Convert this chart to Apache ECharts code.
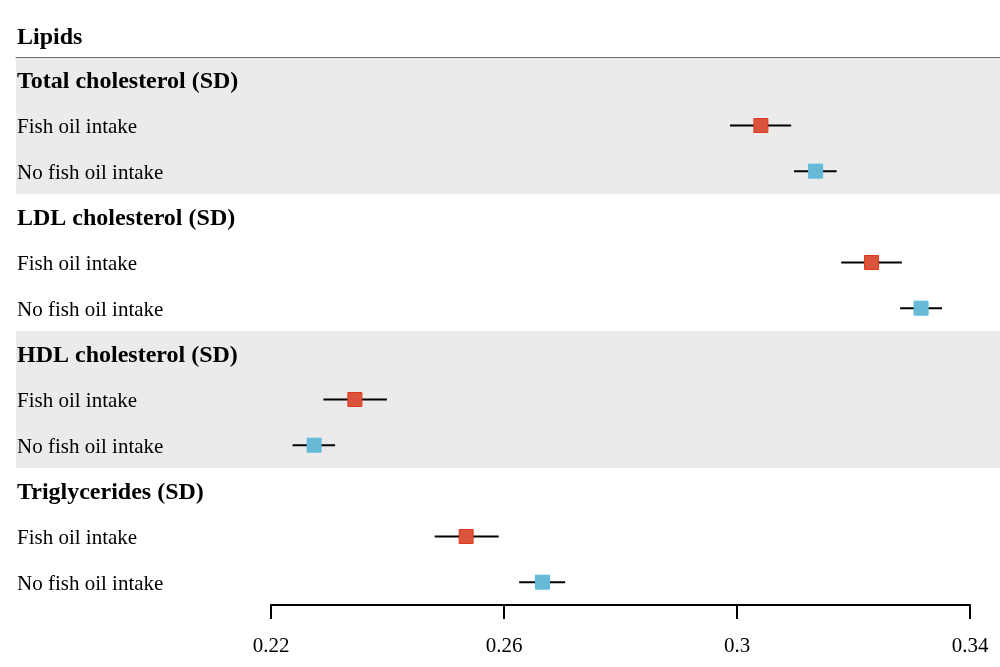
<!DOCTYPE html>
<html>
<head>
<meta charset="utf-8">
<script src="https://cdn.jsdelivr.net/npm/echarts@6/dist/echarts.min.js"></script>
<style>html,body{margin:0;padding:0;background:#fff;}#c{width:1000px;height:667px;}</style>
</head>
<body>
<div id="c"></div>
<script>
// ---- data ----
const headerTitle = 'Lipids';
const groups = ['Total cholesterol (SD)', 'LDL cholesterol (SD)', 'HDL cholesterol (SD)', 'Triglycerides (SD)'];
const subgroups = ['Fish oil intake', 'No fish oil intake'];
const shadedGroups = [true, false, true, false];
const fishEst  = [0.3041, 0.3231, 0.2344, 0.2535];
const fishLow  = [0.2988, 0.3179, 0.2290, 0.2481];
const fishHigh = [0.3093, 0.3283, 0.2399, 0.2591];
const noEst    = [0.3135, 0.3316, 0.2274, 0.2666];
const noLow    = [0.3098, 0.3280, 0.2237, 0.2626];
const noHigh   = [0.3171, 0.3352, 0.2310, 0.2705];
const xTicks = [0.22, 0.26, 0.3, 0.34];

// ---- build rows ----
const rowLabels = [];
const rowIsHeader = [];
groups.forEach(g => {
  rowLabels.push(g); rowIsHeader.push(true);
  subgroups.forEach(s => { rowLabels.push(s); rowIsHeader.push(false); });
});
const rowKeys = rowLabels.map((_, i) => 'r' + i);
// shaded bands: [first row, last row] of each shaded group
const bandData = [];
groups.forEach((_, g) => { if (shadedGroups[g]) bandData.push([3 * g, 3 * g + 2]); });

const fishPts = groups.map((_, g) => [fishEst[g], 3 * g + 1]);
const noPts = groups.map((_, g) => [noEst[g], 3 * g + 2]);
const ciData = [];
groups.forEach((_, g) => {
  ciData.push([fishLow[g], fishHigh[g], 3 * g + 1]);
  ciData.push([noLow[g], noHigh[g], 3 * g + 2]);
});

const serif = '"Liberation Serif", "Times New Roman", serif';
const chart = echarts.init(document.getElementById('c'));
chart.setOption({
  animation: false,
  backgroundColor: '#fff',
  textStyle: { fontFamily: serif },
  title: {
    text: headerTitle, left: 12, top: 21,
    textStyle: { fontFamily: serif, fontWeight: 'bold', fontSize: 24, color: '#000', lineHeight: 24 }
  },
  grid: [
    { left: 16, right: 0, top: 57, bottom: 62 },
    { left: 271, right: 30, top: 57, bottom: 62 }
  ],
  xAxis: [
    {
      gridIndex: 0, type: 'value', min: 0, max: 1, position: 'top',
      axisLine: { show: true, onZero: false, lineStyle: { color: '#6e6e6e', width: 1.2 } },
      axisTick: { show: false }, axisLabel: { show: false }, splitLine: { show: false }
    },
    {
      gridIndex: 1, type: 'value', min: 0.22, max: 0.34, interval: 0.04, position: 'bottom',
      axisLine: { show: true, onZero: false, lineStyle: { color: '#000', width: 2 } },
      axisTick: { show: true, length: 14, lineStyle: { color: '#000', width: 2 } },
      axisLabel: {
        margin: 31, fontFamily: serif, fontSize: 21, color: '#000',
        customValues: xTicks,
        formatter: v => String(+v.toFixed(2))
      },
      splitLine: { show: false }
    }
  ],
  yAxis: [
    {
      gridIndex: 0, type: 'category', data: rowKeys, inverse: true, z: 5,
      axisLine: { show: false }, axisTick: { show: false }, splitLine: { show: false },
      axisLabel: {
        inside: true, margin: 1, interval: 0, align: 'left',
        formatter: (v, i) => (rowIsHeader[i] ? '{h|' : '{s|') + rowLabels[i] + '}',
        rich: {
          h: { fontFamily: serif, fontWeight: 'bold', fontSize: 24, color: '#000', padding: [4, 0, 0, 0] },
          s: { fontFamily: serif, fontSize: 21, color: '#000', padding: [4, 0, 0, 0] }
        }
      }
    },
    {
      gridIndex: 1, type: 'category', data: rowKeys, inverse: true, show: false
    }
  ],
  series: [
    {
      type: 'custom', xAxisIndex: 0, yAxisIndex: 0, data: bandData, z: 0, silent: true,
      encode: { y: [0, 1] },
      renderItem: (params, api) => {
        const a = api.coord([0, api.value(0)]);
        const b = api.coord([1, api.value(1)]);
        const h = api.size([0, 1])[1];
        return { type: 'rect',
                 shape: { x: a[0], y: a[1] - h / 2, width: b[0] - a[0], height: b[1] - a[1] + h },
                 style: { fill: '#ebebeb' } };
      }
    },
    {
      type: 'custom', xAxisIndex: 1, yAxisIndex: 1, data: ciData, z: 3,
      encode: { x: [0, 1], y: 2 },
      renderItem: (params, api) => {
        const a = api.coord([api.value(0), api.value(2)]);
        const b = api.coord([api.value(1), api.value(2)]);
        return { type: 'line', shape: { x1: a[0], y1: a[1], x2: b[0], y2: b[1] },
                 style: { stroke: '#000', lineWidth: 2 } };
      }
    },
    {
      type: 'scatter', xAxisIndex: 1, yAxisIndex: 1, data: fishPts, z: 4,
      symbol: 'rect', symbolSize: 14,
      itemStyle: { color: '#d9533d', borderColor: '#e0381e', borderWidth: 1, opacity: 1 }
    },
    {
      type: 'scatter', xAxisIndex: 1, yAxisIndex: 1, data: noPts, z: 4,
      symbol: 'rect', symbolSize: 14,
      itemStyle: { color: '#68b9d6', borderColor: '#5cb9de', borderWidth: 1, opacity: 1 }
    }
  ]
});
</script>
</body>
</html>
